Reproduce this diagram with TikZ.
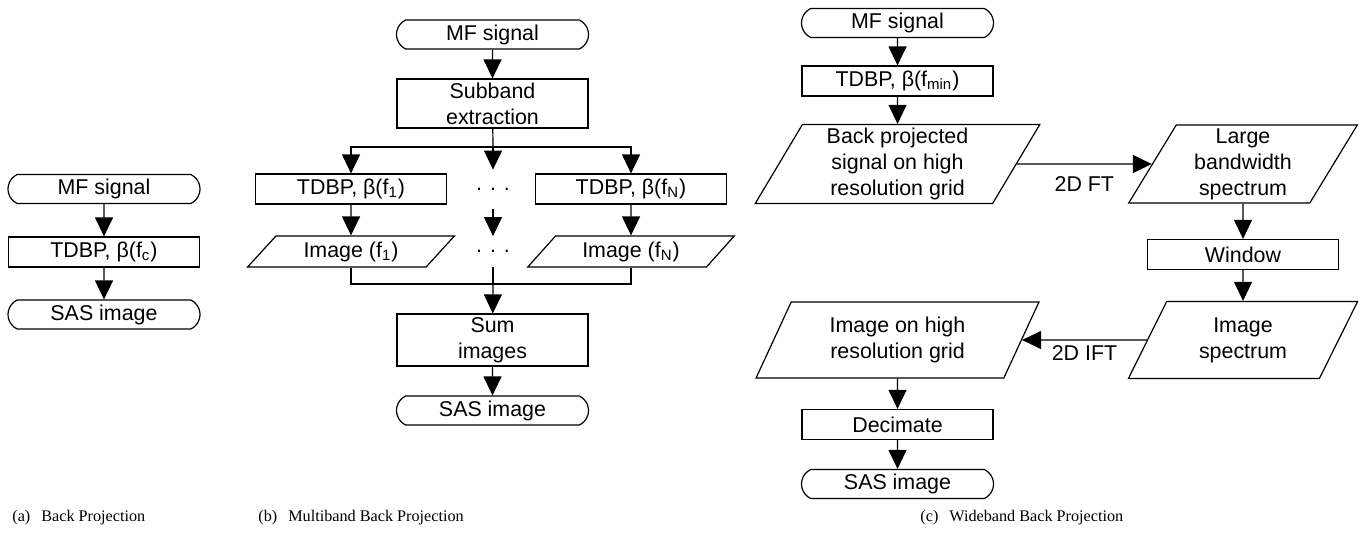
\documentclass[tikz,border=0pt]{standalone}
\usepackage{fontspec}
\setmainfont{Liberation Sans}
\newfontfamily\capfont{Liberation Serif}
\usetikzlibrary{arrows.meta,shapes.geometric,shapes.misc}

\begin{document}
\begin{tikzpicture}[x=0.5pt,y=-0.5pt,
  base/.style={draw,line width=0.6pt,align=center,inner sep=0pt,font=\fontsize{10.7}{13}\selectfont},
  block/.style={base,rectangle,minimum width=95.5pt,minimum height=15pt},
  term/.style={base,rounded rectangle,rounded rectangle arc length=130,minimum width=96pt,minimum height=14.5pt},
  io/.style={base,trapezium,trapezium stretches=true,trapezium left angle=64,trapezium right angle=116},
  gap/.style={align=center,inner sep=0pt,minimum width=95pt,minimum height=15pt,font=\fontsize{10.7}{13}\selectfont},
  flow/.style={line width=0.6pt,-{Triangle[length=9.5pt,width=9pt]}},
  link/.style={line width=0.6pt},
  lbl/.style={inner sep=0pt,font=\fontsize{10.7}{13}\selectfont},
  subcap/.style={anchor=base west,inner sep=0pt,font=\capfont\fontsize{8.1}{10}\selectfont}
]
\useasboundingbox (0,0) rectangle (1368,542);
% (a) back projection
\node[term] (aIn) at (104,189) {MF signal};
\node[block] (aTd) at (104,252) {TDBP, β(f\textsubscript{c})};
\node[term] (aOut) at (104,314.5) {SAS image};
\draw[flow] (aIn) -- (aTd);
\draw[flow] (aTd) -- (aOut);
% (b) multiband back projection
\node[term] (bIn) at (492.5,34.5) {MF signal};
\node[block,minimum height=24.5pt] (bSub) at (492.5,103.5) {Subband\\extraction};
\coordinate (split) at (493,147);
\node[block] (bTd1) at (351,189) {TDBP, β(f\textsubscript{1})};
\node[gap] (bDots1) at (493,189) {. . .};
\node[block] (bTdN) at (631,189) {TDBP, β(f\textsubscript{N})};
\node[io,trapezium left angle=48,trapezium right angle=132,minimum width=104pt,minimum height=15.5pt] (bImg1) at (351,251.5) {Image (f\textsubscript{1})};
\node[gap] (bDots2) at (493,251.5) {. . .};
\node[io,trapezium left angle=48,trapezium right angle=132,minimum width=104pt,minimum height=15.5pt] (bImgN) at (631,251.5) {Image (f\textsubscript{N})};
\coordinate (join) at (493,284);
\node[block,minimum height=26pt] (bSum) at (492.5,340) {Sum\\images};
\node[term] (bOut) at (492.5,410.5) {SAS image};
\draw[flow] (bIn) -- (bSub);
\draw[link] (bSub) -- (split);
\draw[flow] (split) -| (bTd1);
\draw[flow] (split) -| (bTdN);
\draw[flow,shorten >=2pt] (split) -- (bDots1);
\draw[flow] (bTd1) -- (bImg1);
\draw[flow] (bTdN) -- (bImgN);
\draw[flow,shorten <=2.5pt] (bDots1) -- (bDots2);
\draw[link] (bImg1) |- (join) -| (bImgN);
\draw[link] (bDots2) -- (join);
\draw[flow] (join) -- (bSum);
\draw[flow] (bSum) -- (bOut);
% (c) wideband back projection
\node[term] (cIn) at (897.5,23) {MF signal};
\node[block] (cTd) at (897.5,81) {TDBP, β(f\textsubscript{min})};
\node[io,minimum width=142.5pt,minimum height=39.5pt] (cBp) at (897.5,164) {Back projected\\signal on high\\resolution grid};
\node[io,minimum width=115pt,minimum height=39pt] (cLb) at (1243,164) {Large\\bandwidth\\spectrum};
\node[block] (cWin) at (1243,254.5) {Window};
\node[io,minimum width=115pt,minimum height=38.5pt] (cIs) at (1243,340) {Image\\spectrum};
\node[io,minimum width=142.5pt,minimum height=38pt] (cIh) at (897.5,340) {Image on high\\resolution grid};
\node[block] (cDec) at (897.5,424.5) {Decimate};
\node[term] (cOut) at (897.5,484) {SAS image};
\draw[flow] (cIn) -- (cTd);
\draw[flow] (cTd) -- (cBp);
\draw[flow] (cBp) -- node[lbl,below=6pt] {2D FT} (cLb);
\draw[flow] (cLb) -- (cWin);
\draw[flow] (cWin) -- (cIs);
\draw[flow] (cIs) -- node[lbl,below=2.5pt] {2D IFT} (cIh);
\draw[flow] (cIh) -- (cDec);
\draw[flow] (cDec) -- (cOut);
% captions
\node[subcap] (capA) at (12,521) {(a)\hspace{5.5pt}Back Projection};
\node[subcap] (capB) at (258,521) {(b)\hspace{5.5pt}Multiband Back Projection};
\node[subcap] (capC) at (920,521) {(c)\hspace{5.5pt}Wideband Back Projection};
\end{tikzpicture}
\end{document}
